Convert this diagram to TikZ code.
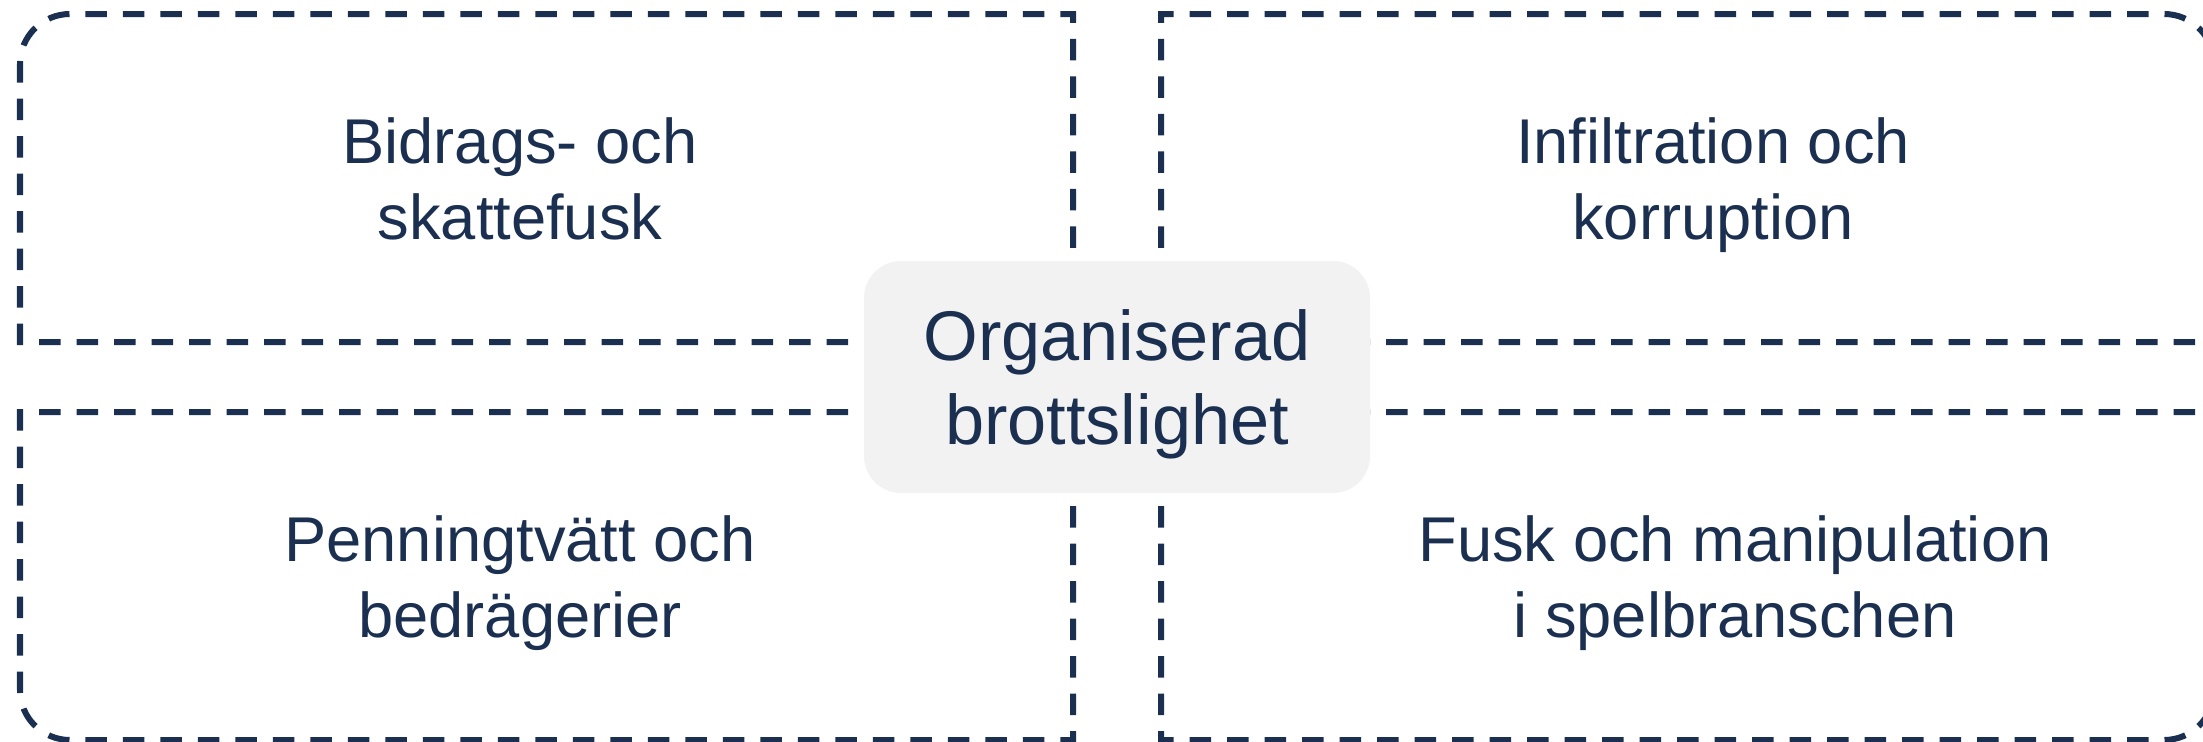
\documentclass[tikz,border=0pt]{standalone}
\usepackage{fontspec}
\setmainfont{Liberation Sans}
\usetikzlibrary{positioning}
\definecolor{navy}{HTML}{1B3050}
\definecolor{boxgray}{HTML}{F2F2F2}

\begin{document}
\begin{tikzpicture}[node distance=2cm,on grid,
        field/.style={draw=navy,line width=0.6mm,dash pattern=on 2.15mm off 1.6mm},
        topic/.style={text=navy,align=center,font=\fontsize{18}{21.6}\selectfont},
        core/.style={fill=boxgray,rounded corners=3.7mm,minimum width=5.06cm,minimum height=2.32cm,
            text=navy,align=center,font=\fontsize{20}{24}\selectfont}]
        \useasboundingbox (0,0) rectangle (22.03,7.41);
        % four dashed fields
        \draw[field] (10.73,3.99) -- (0.20,3.99) -- (0.20,6.77) arc[start angle=180,end angle=90,radius=0.5] -- (10.73,7.27) -- cycle;
        \draw[field] (11.61,3.99) -- (22.14,3.99) -- (22.14,6.77) arc[start angle=0,end angle=90,radius=0.5] -- (11.61,7.27) -- cycle;
        \draw[field] (10.73,3.29) -- (0.20,3.29) -- (0.20,0.51) arc[start angle=180,end angle=270,radius=0.5] -- (10.73,0.01) -- cycle;
        \draw[field] (11.61,3.29) -- (22.14,3.29) -- (22.14,0.51) arc[start angle=0,end angle=-90,radius=0.5] -- (11.61,0.01) -- cycle;

        \node[core] (c_0) at (11.17,3.64) {\rule{0pt}{18.5pt}Organiserad\\brottslighet};
        \node[topic] (q_1) [above left=1.98cm and 5.97cm of c_0] {Bidrags- och\\skattefusk};
        \node[topic] (q_2) [above right=1.915cm and 5.96cm of c_0] {Infiltration och\\korruption};
        \node[topic] (q_3) [below left=2.065cm and 5.97cm of c_0] {Penningtvätt och\\bedrägerier};
        \node[topic] (q_4) [below right=2.065cm and 6.18cm of c_0] {Fusk och manipulation\\i spelbranschen};
    \end{tikzpicture}
\end{document}
